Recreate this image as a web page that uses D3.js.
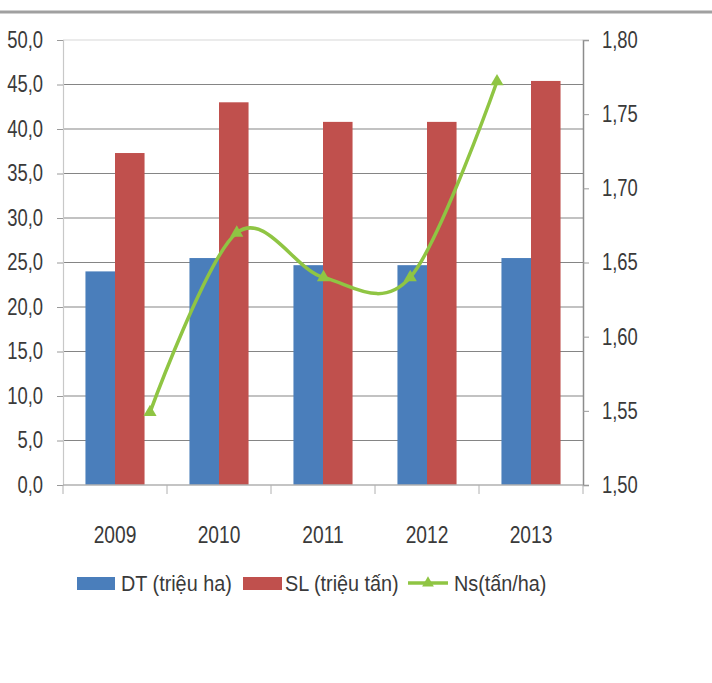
<!DOCTYPE html>
<html lang="vi">
<head>
<meta charset="utf-8">
<script src="https://d3js.org/d3.v7.min.js"></script>
<style>
  body { margin: 0; background: #fff; }
  text { font-family: "Liberation Sans", Arial, sans-serif; fill: #3a3a3a; }
</style>
</head>
<body>
<div id="chart"></div>
<script>
// data
const years = ["2009", "2010", "2011", "2012", "2013"];
const dt = [24.0, 25.5, 24.7, 24.7, 25.5];      // DT (triệu ha)
const sl = [37.3, 43.0, 40.8, 40.8, 45.4];      // SL (triệu tấn)
const ns = [1.549, 1.670, 1.640, 1.640, 1.772]; // Ns (tấn/ha)
const leftTicks = [0, 5, 10, 15, 20, 25, 30, 35, 40, 45, 50];
const rightTicks = [1.50, 1.55, 1.60, 1.65, 1.70, 1.75, 1.80];
const seriesNames = ["DT (triệu ha)", "SL (triệu tấn)", "Ns(tấn/ha)"];

const W = 712, H = 683;
const pL = 63, pR = 583, pT = 40, pB = 485;
const blue = "#4a7ebb", red = "#c0504d", green = "#8fc543";

const svg = d3.select("#chart").append("svg")
    .attr("width", W).attr("height", H);

// squeeze text horizontally, the original font is narrow
function condense(sel, k) {
    sel.each(function () {
        const w = this.getComputedTextLength();
        d3.select(this).attr("textLength", w * k).attr("lengthAdjust", "spacingAndGlyphs");
    });
}

// top frame line
svg.append("line")
    .attr("x1", 0).attr("x2", W).attr("y1", 12).attr("y2", 12)
    .attr("stroke", "#a0a0a0").attr("stroke-width", 3);

const x = d3.scaleBand().domain(years).range([pL, pR]);
const x1 = d3.scaleBand().domain(["dt", "sl"]).range([0, x.bandwidth()]).paddingOuter(0.76);
const xLine = d3.scalePoint().domain(years).range([150, 497]);
const y = d3.scaleLinear().domain([0, 50]).range([pB, pT]);
const y2 = d3.scaleLinear().domain([1.5, 1.8]).range([pB, pT]);

// gridlines
svg.append("g").selectAll("line")
    .data(leftTicks.slice(1))
    .join("line")
    .attr("x1", pL).attr("x2", pR)
    .attr("y1", d => y(d)).attr("y2", d => y(d))
    .attr("stroke", d => d === 50 ? "#d8d8d8" : "#858585")
    .attr("stroke-width", 1.2);

// bars
const rows = years.map((yr, i) => ({ yr, dt: dt[i], sl: sl[i] }));
const grp = svg.append("g").selectAll("g")
    .data(rows).join("g")
    .attr("transform", d => `translate(${x(d.yr)},0)`);
grp.append("rect")
    .attr("x", x1("dt")).attr("width", x1.bandwidth())
    .attr("y", d => y(d.dt)).attr("height", d => y(0) - y(d.dt))
    .attr("fill", blue);
grp.append("rect")
    .attr("x", x1("sl")).attr("width", x1.bandwidth())
    .attr("y", d => y(d.sl)).attr("height", d => y(0) - y(d.sl))
    .attr("fill", red);

const fmt = p => d => d.toFixed(p).replace(".", ",");

// left axis
const ax = svg.append("g")
    .attr("transform", `translate(${pL},0)`)
    .call(d3.axisLeft(y).tickValues(leftTicks).tickFormat(fmt(1)).tickSize(6).tickPadding(14));
ax.select(".domain").attr("stroke", "#c8c8c8").attr("stroke-width", 1.2);
ax.selectAll(".tick line").attr("stroke", "#9a9a9a");
ax.selectAll("text").style("font-size", "23px").attr("fill", "#3a3a3a");

// right axis
const ar = svg.append("g")
    .attr("transform", `translate(${pR},0)`)
    .call(d3.axisRight(y2).tickValues(rightTicks).tickFormat(fmt(2)).tickSize(6).tickPadding(13));
ar.select(".domain").attr("stroke", "#8c8c8c").attr("stroke-width", 1.5);
ar.selectAll(".tick line").attr("stroke", "#9a9a9a");
ar.selectAll("text").style("font-size", "23px").attr("fill", "#3a3a3a");

// bottom axis: ticks between the categories
const ab = svg.append("g")
    .attr("transform", `translate(0,${pB})`);
ab.append("line").attr("x1", pL).attr("x2", pR)
    .attr("stroke", "#b0b0b0").attr("stroke-width", 1.5);
ab.selectAll(".cut")
    .data(years.concat(["end"]))
    .join("line")
    .attr("x1", (d, i) => pL + i * x.step()).attr("x2", (d, i) => pL + i * x.step())
    .attr("y1", 0).attr("y2", 9)
    .attr("stroke", "#b0b0b0");
ab.selectAll("text")
    .data(years).join("text")
    .attr("x", d => x(d) + x.bandwidth() / 2)
    .attr("y", 58)
    .attr("text-anchor", "middle")
    .style("font-size", "24px")
    .text(d => d);

// Ns line
const pts = years.map((yr, i) => ({ yr, v: ns[i] }));
svg.append("path")
    .datum(pts)
    .attr("fill", "none")
    .attr("stroke", green)
    .attr("stroke-width", 3.5)
    .attr("d", d3.line().curve(d3.curveCardinal.tension(0))
        .x(d => xLine(d.yr)).y(d => y2(d.v)));
svg.append("g").selectAll("path")
    .data(pts).join("path")
    .attr("d", d3.symbol().type(d3.symbolTriangle).size(75))
    .attr("transform", d => `translate(${xLine(d.yr)},${y2(d.v)})`)
    .attr("fill", green);

// legend
const lg = svg.append("g").attr("transform", "translate(0,583)");
lg.append("rect").attr("x", 77).attr("y", -6).attr("width", 38).attr("height", 13).attr("fill", blue);
lg.append("rect").attr("x", 243).attr("y", -6).attr("width", 39).attr("height", 13).attr("fill", red);
lg.append("line").attr("x1", 408).attr("x2", 448).attr("y1", 0).attr("y2", 0)
    .attr("stroke", green).attr("stroke-width", 3.5);
lg.append("path").attr("d", d3.symbol().type(d3.symbolTriangle).size(60))
    .attr("transform", "translate(428,0)").attr("fill", green);
const lgText = lg.selectAll("text")
    .data(seriesNames).join("text")
    .attr("x", (d, i) => [121, 285, 454][i])
    .attr("y", 8)
    .style("font-size", "22px")
    .text(d => d);

condense(svg.selectAll("g.tick text, text.yr"), 0.8);
condense(ab.selectAll("text"), 0.8);
condense(lgText, 0.9);
</script>
</body>
</html>
